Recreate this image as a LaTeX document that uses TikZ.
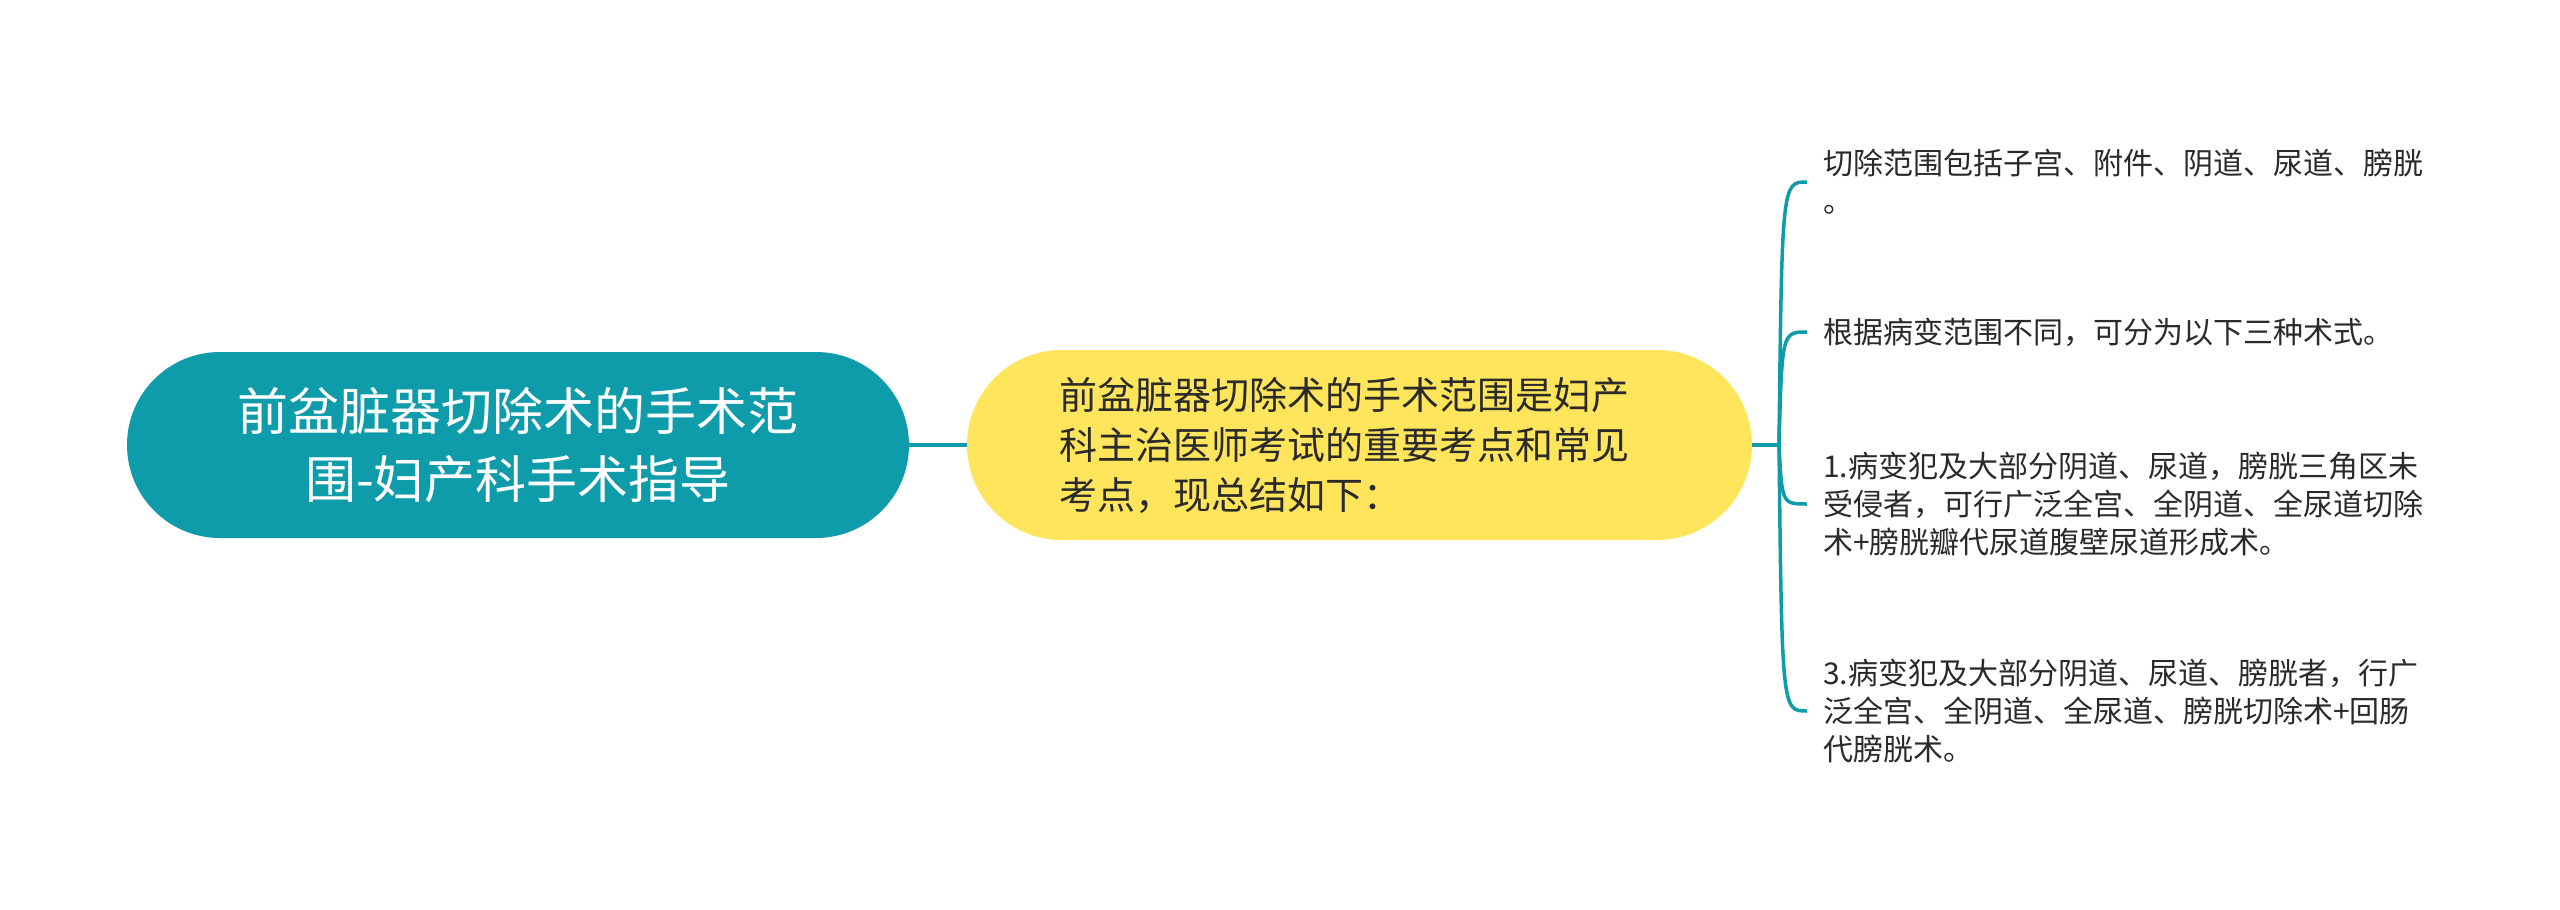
\documentclass[tikz,border=0pt]{standalone}
\usepackage{fontspec}
\setmainfont{Noto Sans CJK SC}
\usetikzlibrary{calc}
\definecolor{tealc}{HTML}{0E9BAA}
\definecolor{yellowc}{HTML}{FFE55B}
\definecolor{textc}{HTML}{2A2A2A}
\begin{document}
\begin{tikzpicture}[x=1pt,y=-1pt,
  rootbox/.style={fill=tealc, rounded corners=93pt, minimum width=782pt, minimum height=186pt,
    text=white, align=center, font=\fontsize{51}{68}\selectfont, inner sep=0pt},
  midbox/.style={fill=yellowc, rounded corners=95pt, minimum width=785pt, minimum height=190pt,
    text=textc, align=left, text width=600pt, inner xsep=92.5pt, inner ysep=0pt,
    font=\fontsize{38}{50}\selectfont},
  leaf/.style={anchor=west, inner sep=0pt, align=left, text=textc,
    font=\fontsize{30}{38}\selectfont},
  link/.style={draw=tealc, line width=4pt},
  branch/.style={draw=tealc, line width=3.5pt}
]
\useasboundingbox (0,0) rectangle (2560,910);
\fill[white] (0,0) rectangle (2560,910);

\node[rootbox] (root) at (518,445) {前盆脏器切除术的手术范\\围-妇产科手术指导};
\node[midbox] (mid) at (1359.5,445) {前盆脏器切除术的手术范围是妇产\\科主治医师考试的重要考点和常见\\考点，现总结如下：};

\node[leaf] (l1) at (1823,182) {切除范围包括子宫、附件、阴道、尿道、膀胱\\。};
\node[leaf] (l2) at (1823,332) {根据病变范围不同，可分为以下三种术式。};
\node[leaf] (l3) at (1823,504) {1.病变犯及大部分阴道、尿道，膀胱三角区未\\受侵者，可行广泛全宫、全阴道、全尿道切除\\术+膀胱瓣代尿道腹壁尿道形成术。};
\node[leaf] (l4) at (1823,711) {3.病变犯及大部分阴道、尿道、膀胱者，行广\\泛全宫、全阴道、全尿道、膀胱切除术+回肠\\代膀胱术。};

\coordinate (j) at (1779,445);

\draw[link] (root.east) -- (mid.west);
\draw[link] (mid.east) -- (j);
\foreach \l in {l1,l2,l3,l4}{
  \draw[branch] (j) .. controls ($(j |- \l.west)+(3,0)$) and ($(j |- \l.west)+(3,0)$) .. ($(\l.west)+(-16,0)$);
}
\end{tikzpicture}
\end{document}
